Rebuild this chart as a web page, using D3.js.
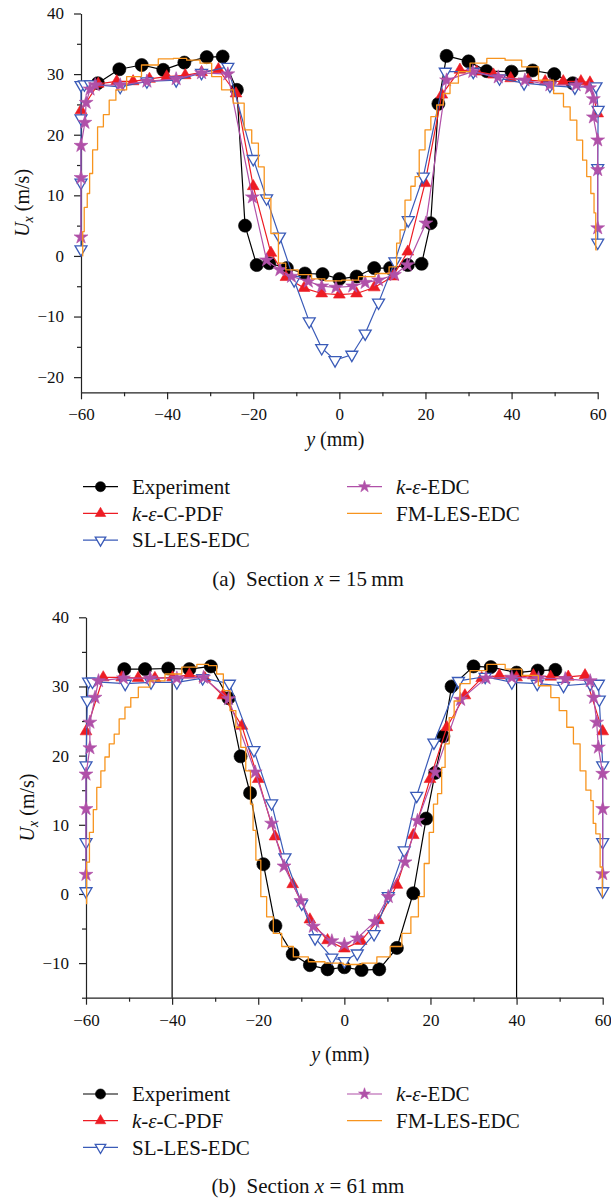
<!DOCTYPE html>
<html>
<head>
<meta charset="utf-8">
<script src="https://cdn.jsdelivr.net/npm/d3@7"></script>
<style>
  body { margin: 0; background: #fff; }
  svg, svg text { font-family: "Liberation Serif", "DejaVu Serif", "Times New Roman", serif; }
</style>
</head>
<body>
<svg id="fig" width="611" height="1199"></svg>
<script>
// ---------- axis ticks ----------
const xTicks = [-60, -40, -20, 0, 20, 40, 60];
const xMinorTicks = [-50, -30, -10, 10, 30, 50];
const yTicksA = [-20, -10, 0, 10, 20, 30, 40];
const yMinorTicksA = [-15, -5, 5, 15, 25, 35];
const yTicksB = [-10, 0, 10, 20, 30, 40];
const yMinorTicksB = [-15, -5, 5, 15, 25, 35];

// ---------- section x = 15 mm ----------
const expA_y = [-56.1, -51.1, -45.9, -40.9, -36, -30.8, -27.1, -23.8, -21.9, -19.2, -16.3, -12.2, -8, -3.9, 0, 4, 8.1, 11.8, 15.9, 19.1, 21.2, 23, 24.9, 30, 34.2, 40, 44.9, 49.9, 54.2];
const expA_u = [28.5, 30.8, 31.5, 30.7, 31.9, 32.8, 32.9, 27.4, 5.0, -1.5, -1.2, -2.0, -2.9, -3.0, -3.8, -3.4, -2.0, -2.0, -1.5, -1.3, 5.4, 25.1, 33.0, 32.1, 30.5, 30.4, 30.6, 30.0, 28.5];

const pdfA_y = [-60, -56, -51.7, -47.9, -44.1, -40.1, -35.8, -32, -28.1, -24, -20, -15.9, -12.4, -8.2, -4.1, 0, 4, 8.1, 12.4, 15.9, 19.9, 23.8, 28, 31.9, 35.8, 39.8, 43.8, 47.8, 52, 56.1, 58.2, 60];
const pdfA_u = [24, 28.4, 28.8, 28.8, 29.2, 29.6, 29.8, 30.3, 30.8, 26.8, 11.5, 0.5, -3.5, -5.3, -6.2, -6.4, -6.2, -5.2, -3.4, 0.7, 12, 26.6, 30.7, 30.4, 29.9, 29.3, 29.0, 28.8, 28.8, 28.8, 28.6, 23.5];

const slA_y = [-60, -60, -60, -60, -59.2, -57.8, -50.9, -44.7, -37.9, -32, -25.9, -20, -16.9, -13.9, -10.5, -7, -4.1, -1, 2.9, 6, 9.1, 12.9, 16, 19.5, 24.6, 31.1, 37.2, 42.9, 48.9, 54.7, 59.6, 60.1, 60, 60];
const slA_u = [1.1, 12.1, 22.7, 28.2, 28.3, 28.3, 27.9, 28.8, 29.0, 30.2, 31.2, 16, 9.5, 3.2, -4.0, -10.8, -15.2, -17.2, -16.3, -12.8, -7.7, -0.9, 5.9, 13.1, 30.4, 30.4, 29.3, 28.5, 28.1, 27.8, 28.0, 24.1, 14.5, 2.2];

const epA_y = [-60, -60, -60, -59.1, -58.8, -57.9, -56.7, -50.9, -44.7, -37.9, -32, -25.9, -20.2, -16.9, -13.8, -11.1, -7.2, -4.1, -0.8, 3.1, 6, 9.1, 12.8, 15.8, 20.1, 24.9, 31, 36.9, 43.1, 48.9, 55, 58.1, 59, 59, 60, 60, 60];
const epA_u = [3.1, 12.9, 18.2, 22, 25.3, 27.5, 28.2, 28.2, 28.8, 29.2, 30.2, 30.0, 9.7, -0.7, -2.3, -3.4, -4.2, -5.0, -5.2, -5.0, -4.4, -4.0, -3.1, -1.5, 5.4, 29.0, 30.4, 29.5, 29.0, 28.2, 28.2, 27.7, 25.9, 22.9, 19.1, 14.2, 4.6];

const fmA_y = [-59.7, -59.5, -59.0, -58.1, -57.9, -56.7, -55.6, -54, -52.9, -50.9, -47.9, -44, -40.1, -37, -33.9, -30.8, -28.5, -26.2, -23.1, -21.1, -19.6, -18, -16.9, -14.9, -13.4, -11.5, -7.6, -5.3, -1.4, 2.5, 6.4, 10.2, 12.9, 13.7, 14.5, 16, 17.2, 18, 19.1, 20.7, 21.8, 23.4, 24.9, 26.5, 28.8, 31.9, 36.6, 40.4, 44.3, 48.2, 51.3, 52.8, 54.4, 55.9, 57.1, 57.8, 59, 59.3, 59.8];
const fmA_u = [0, 4, 8, 10.3, 13.6, 17.5, 21.3, 23.3, 25.7, 27.4, 29.6, 31.5, 32.5, 32.6, 32.3, 31.8, 29.6, 27.4, 25.2, 20.8, 18.6, 14.7, 9.5, 3.7, -1.2, -2.3, -3.1, -3.8, -4.1, -4.0, -3.4, -2.9, -1.8, 2.1, 4.3, 9.2, 11.5, 13.1, 17.5, 20.8, 23.0, 24.9, 26.8, 28.5, 30.4, 31.8, 32.6, 32.3, 31.2, 29.0, 26.8, 24.6, 22.4, 19.1, 15.8, 13.1, 10.3, 7.1, 1.0];

// ---------- section x = 61 mm ----------
const expB_y = [-51.1, -46.3, -40.9, -36, -31, -26.9, -24.1, -21.9, -18.8, -16, -12, -8, -3.9, 0, 4, 8.1, 12.2, 16, 19, 21.1, 23, 24.9, 30, 34, 40, 44.9, 49];
const expB_u = [32.5, 32.5, 32.6, 32.5, 32.9, 28.3, 19.9, 14.6, 4.3, -4.6, -8.7, -10.3, -10.9, -10.6, -11.0, -10.9, -7.8, 0.1, 10.9, 17.5, 22.8, 30.0, 32.9, 32.8, 32.0, 32.3, 32.4];
const expB_dropY = [-40, 40];
const expB_dropTop = 32.6;

const pdfB_y = [-60, -56, -51.7, -47.9, -44, -39.9, -36, -32.4, -28.2, -23.8, -20, -16.1, -12, -8, -3.9, 0, 3.9, 7.9, 12.2, 16, 19.9, 23.8, 28, 31.9, 36, 40, 43.9, 47.9, 52, 55.9, 60];
const pdfB_u = [23.5, 31.3, 31.3, 31.2, 31.2, 31.3, 31.7, 31.2, 28.7, 24.3, 16.6, 8.3, 1.4, -3.7, -6.7, -7.9, -6.8, -3.8, 1.3, 8.5, 16.6, 24.1, 28.7, 31.2, 31.6, 31.3, 31.6, 31.4, 31.4, 31.6, 23.5];

const slB_y = [-60, -60, -60, -59.7, -59.4, -58.5, -50.9, -44.9, -38.9, -32.9, -26.7, -21, -16.9, -13.8, -9.9, -6.8, -2.9, 0, 3, 6.9, 10.2, 13.9, 16.8, 20.8, 26.5, 32.7, 38.9, 44.8, 50.9, 57.1, 59, 59.2, 60, 60, 60];
const slB_u = [0.4, 7.5, 18.6, 28, 30.7, 30.7, 30.4, 30.6, 30.6, 31.2, 30.4, 20.8, 13.1, 5.3, -1.4, -6.4, -9.2, -9.7, -8.6, -5.8, -0.3, 6.3, 14.2, 21.9, 30.8, 31.4, 30.6, 30.4, 30.1, 30.4, 30.4, 28.1, 18.6, 7.5, 0.4];

const epB_y = [-60, -60, -60, -59.1, -59.1, -57.9, -57.1, -51.3, -45.1, -38.9, -32.7, -26.9, -20.7, -16.9, -14, -10.1, -7.2, -2.9, 0, 3, 7.1, 10.2, 14.1, 17, 21.1, 27, 32.9, 38.9, 45.1, 51.3, 57.1, 57.9, 58.6, 59, 60, 60, 60];
const epB_u = [2.8, 12.3, 17.3, 21.1, 24.8, 28.4, 30.8, 31.2, 31.2, 31.2, 31.3, 28.2, 17.6, 10.2, 4.0, -1.0, -4.7, -6.8, -7.3, -6.4, -4.0, -0.4, 4.6, 10.6, 17.6, 28.1, 31.2, 31.3, 31.2, 31.1, 30.8, 28.4, 24.8, 21.2, 17.4, 12.3, 2.9];

const fmB_y = [-60, -59.7, -58.7, -57.9, -57.1, -56, -55.2, -54, -52.9, -51.7, -50.2, -49, -46.7, -43.6, -39.7, -35.8, -32.7, -30.4, -28.9, -27.3, -25.8, -24.6, -23.5, -22.3, -21.3, -21.1, -20, -18.8, -17.3, -15.7, -13.4, -10.3, -6.4, -2.6, 2.1, 6, 9.1, 12.2, 14.5, 16.4, 18, 19.1, 20.3, 21.1, 22.2, 23, 23.8, 24.9, 26.1, 27.6, 30.8, 35.4, 39.3, 43.1, 47, 48.9, 50.9, 52.4, 54, 55.5, 56.7, 57.8, 57.8, 59, 59.8, 60];
const fmB_u = [-1.4, 4.6, 8.9, 12.2, 15.4, 17.8, 19.8, 21.7, 23.1, 25.3, 27, 28.4, 29.9, 30.8, 31.8, 32.8, 33.2, 33, 31.8, 29.4, 26.5, 24.1, 21.2, 17.8, 13, 9.2, 4.9, -0.4, -3.3, -5.7, -7.6, -9.1, -9.8, -10, -10.2, -10, -9.1, -7.6, -5.7, -3.3, -0.4, 4.4, 8.9, 13, 14.5, 18.3, 21.7, 25.5, 27.9, 30.4, 32.3, 33.2, 32.5, 31.6, 30.1, 28.4, 26.5, 24.1, 21.7, 17.8, 15.0, 13.5, 10.2, 8.7, 3.9, -0.4];

// ---------- series appearance ----------
const FONT = "'Liberation Serif', 'DejaVu Serif', 'Times New Roman', serif";
const styles = {
  exp: { color: "#000000", symbol: d3.symbolCircle, size: 135, legendSize: 80, fill: true, rotate: 0, width: 1.2 },
  pdf: { color: "#ed1c24", symbol: d3.symbolTriangle, size: 60, legendSize: 48, fill: true, rotate: 0, width: 1.2 },
  sl:  { color: "#3a5bb8", symbol: d3.symbolTriangle, size: 62, legendSize: 48, fill: false, rotate: 180, width: 1.2 },
  ep:  { color: "#b050a8", symbol: d3.symbolStar, size: 60, legendSize: 44, fill: true, rotate: 0, width: 1.2 },
  fm:  { color: "#f7941e", symbol: null, width: 1.3 }
};

const legendItems = [
  { key: "exp", parts: [["Experiment", false]] },
  { key: "pdf", parts: [["k", true], ["-", false], ["ε", true], ["-C-PDF", false]] },
  { key: "sl",  parts: [["SL-LES-EDC", false]] },
  { key: "ep",  parts: [["k", true], ["-", false], ["ε", true], ["-EDC", false]] },
  { key: "fm",  parts: [["FM-LES-EDC", false]] }
];

const zip = (a, b) => a.map((v, i) => [v, b[i]]);

const panels = [
  {
    top: 13.5, bottom: 392.3, left: 81, width: 516.7,
    yDomain: [-22.5, 40], yTicks: yTicksA, yMinor: yMinorTicksA,
    legendTop: 486.7, caption: ["(a)\u2002Section ", "x", " = 15\u2009mm"], captionY: 586,
    xLabelY: 446,
    series: [
      { key: "exp", data: zip(expA_y, expA_u) },
      { key: "pdf", data: zip(pdfA_y, pdfA_u) },
      { key: "sl",  data: zip(slA_y, slA_u) },
      { key: "ep",  data: zip(epA_y, epA_u) },
      { key: "fm",  data: zip(fmA_y, fmA_u) }
    ],
    drops: []
  },
  {
    top: 617.3, bottom: 997.7, left: 86, width: 516.7,
    yDomain: [-15, 40], yTicks: yTicksB, yMinor: yMinorTicksB,
    legendTop: 1094, caption: ["(b)\u2002Section ", "x", " = 61\u2009mm"], captionY: 1193,
    xLabelY: 1061,
    series: [
      { key: "exp", data: zip(expB_y, expB_u) },
      { key: "pdf", data: zip(pdfB_y, pdfB_u) },
      { key: "sl",  data: zip(slB_y, slB_u) },
      { key: "ep",  data: zip(epB_y, epB_u) },
      { key: "fm",  data: zip(fmB_y, fmB_u) }
    ],
    drops: expB_dropY
  }
];

const svg = d3.select("#fig").attr("font-family", FONT);

function markerPath(st, size) {
  return d3.symbol().type(st.symbol).size(size)();
}

function drawPanel(p) {
  const g = svg.append("g").attr("font-family", FONT);
  const x = d3.scaleLinear().domain([-60, 60]).range([p.left, p.left + p.width]);
  const y = d3.scaleLinear().domain(p.yDomain).range([p.bottom, p.top]);

  // drop lines
  g.selectAll("line.drop").data(p.drops).join("line")
    .attr("class", "drop")
    .attr("x1", d => x(d)).attr("x2", d => x(d))
    .attr("y1", y(expB_dropTop)).attr("y2", y(p.yDomain[0]))
    .attr("stroke", "#000").attr("stroke-width", 1.2);

  // axes
  const styleAxis = a => {
    a.attr("font-family", FONT).attr("font-size", 17);
    a.selectAll("text").attr("font-family", FONT).attr("font-size", 17).attr("fill", "#111");
  };
  const xAxis = g.append("g").attr("transform", `translate(0,${p.bottom})`)
    .call(d3.axisBottom(x).tickValues(xTicks).tickSize(7).tickSizeOuter(0).tickPadding(9));
  styleAxis(xAxis);
  const xMinor = g.append("g").attr("transform", `translate(0,${p.bottom})`)
    .call(d3.axisBottom(x).tickValues(xMinorTicks).tickSize(4).tickFormat(""));
  xMinor.select(".domain").remove();

  const yAxis = g.append("g").attr("transform", `translate(${p.left},0)`)
    .call(d3.axisLeft(y).tickValues(p.yTicks).tickSize(7).tickSizeOuter(0).tickPadding(10));
  styleAxis(yAxis);
  const yMinor = g.append("g").attr("transform", `translate(${p.left},0)`)
    .call(d3.axisLeft(y).tickValues(p.yMinor).tickSize(4).tickFormat(""));
  yMinor.select(".domain").remove();
  g.selectAll(".domain, .tick line").attr("stroke", "#222").attr("stroke-width", 1.2);

  // series
  p.series.forEach(s => {
    const st = styles[s.key];
    const line = d3.line().x(d => x(d[0])).y(d => y(d[1]))
      .curve(s.key === "fm" ? d3.curveStep : d3.curveLinear);
    g.append("path").datum(s.data)
      .attr("d", line).attr("fill", "none")
      .attr("stroke", st.color).attr("stroke-width", st.width)
      .attr("stroke-linejoin", "round");
    if (st.symbol) {
      g.append("g").selectAll("path").data(s.data).join("path")
        .attr("d", markerPath(st, st.size))
        .attr("transform", d => `translate(${x(d[0])},${y(d[1])}) rotate(${st.rotate})`)
        .attr("fill", st.fill ? st.color : "#fff")
        .attr("stroke", st.color)
        .attr("stroke-width", st.fill ? 0.6 : 1.3);
    }
  });

  // axis titles
  const cx = p.left + p.width / 2;
  const xl = g.append("text").attr("x", cx - 4).attr("y", p.xLabelY)
    .attr("text-anchor", "middle").attr("font-size", 20).attr("fill", "#111");
  xl.append("tspan").attr("font-style", "italic").text("y");
  xl.append("tspan").text(" (mm)");

  const cy = (p.top + p.bottom) / 2;
  const yl = g.append("text")
    .attr("transform", `translate(${p.left - 52},${cy}) rotate(-90)`)
    .attr("text-anchor", "middle").attr("font-size", 20).attr("fill", "#111");
  yl.append("tspan").attr("font-style", "italic").text("U");
  yl.append("tspan").attr("font-style", "italic").attr("font-size", 14).attr("dy", 4).text("x");
  yl.append("tspan").attr("dy", -4).text(" (m/s)");

  // legend
  const rows = [0, 1, 2, 0, 1];
  const cols = [0, 0, 0, 1, 1];
  const colX = [83, 347];
  const rowH = 26.7;
  legendItems.forEach((it, i) => {
    const st = styles[it.key];
    const lx = colX[cols[i]];
    const ly = p.legendTop + rows[i] * rowH;
    const lg = g.append("g");
    lg.append("line").attr("x1", lx).attr("x2", lx + 35).attr("y1", ly).attr("y2", ly)
      .attr("stroke", st.color).attr("stroke-width", st.width);
    if (st.symbol) {
      lg.append("path").attr("d", markerPath(st, st.legendSize))
        .attr("transform", `translate(${lx + 17.5},${ly}) rotate(${st.rotate})`)
        .attr("fill", st.fill ? st.color : "#fff")
        .attr("stroke", st.color).attr("stroke-width", st.fill ? 0.6 : 1.3);
    }
    const t = lg.append("text").attr("x", lx + 49).attr("y", ly).attr("dy", "0.35em")
      .attr("font-size", 21).attr("fill", "#111");
    it.parts.forEach(([txt, ital]) => {
      const ts = t.append("tspan").text(txt);
      if (ital) ts.attr("font-style", "italic");
    });
  });

  // caption
  const cap = g.append("text").attr("x", 308).attr("y", p.captionY)
    .attr("text-anchor", "middle").attr("font-size", 21).attr("fill", "#111");
  cap.append("tspan").text(p.caption[0]);
  cap.append("tspan").attr("font-style", "italic").text(p.caption[1]);
  cap.append("tspan").text(p.caption[2]);
}

panels.forEach(drawPanel);
</script>
</body>
</html>
